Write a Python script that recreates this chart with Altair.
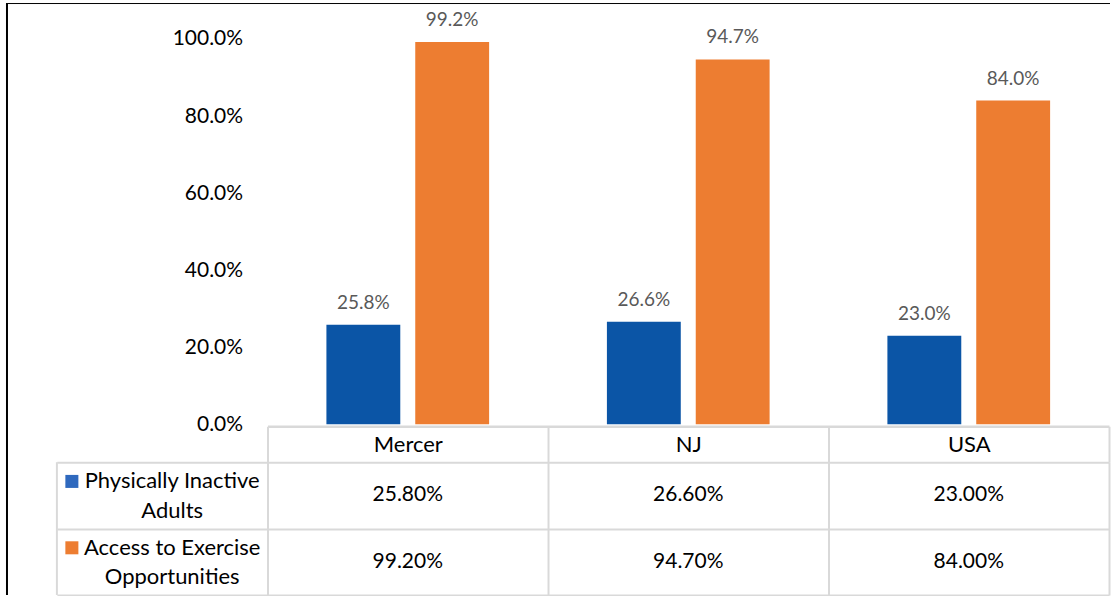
import altair as alt
import pandas as pd

# ---- data ----
categories = ["Mercer", "NJ", "USA"]
series = ["Physically Inactive Adults", "Access to Exercise Opportunities"]
inactive = [0.258, 0.266, 0.230]
access = [0.992, 0.947, 0.840]
y_ticks = [0.0, 0.2, 0.4, 0.6, 0.8, 1.0]

bar_colors = ["#0B55A6", "#ED7D31"]
key_colors = ["#2F69BE", "#ED7D31"]

rows = []
for s, vals in zip(series, [inactive, access]):
    for c, v in zip(categories, vals):
        rows.append({"category": c, "series": s, "value": v})
df = pd.DataFrame(rows)
keys_df = pd.DataFrame({"series": series})
one = pd.DataFrame({"a": [0]})

FONT = "Lato"
W = 843      # plot width (3 columns)
H = 386      # bar plot height
TH = 133     # table height (2 rows)
GRID = "#D9D9D9"

x_scale = alt.Scale(domain=categories, paddingInner=0, paddingOuter=0)
xo_scale = alt.Scale(domain=series, paddingInner=0.1685, paddingOuter=0.663)
y_scale = alt.Scale(domain=[0, 1], nice=False, zero=True)

x_bar = alt.X(
    "category:N", sort=categories, scale=x_scale,
    axis=alt.Axis(
        title=None, orient="bottom", offset=2, labelAngle=0,
        domainColor=GRID, domainWidth=2.5,
        ticks=True, tickBand="extent", tickSize=36, tickColor=GRID, tickWidth=2,
        labelPadding=-18, labelBaseline="middle", labelFontSize=22,
        labelColor="#000000", labelFont=FONT, grid=False,
    ),
)
y_bar = alt.Y(
    "value:Q", scale=y_scale,
    axis=alt.Axis(
        title=None, values=y_ticks, format=".1%", domain=False, ticks=False,
        tickSize=0, grid=False, labelPadding=25, labelFontSize=21,
        labelColor="#000000", labelFont=FONT,
    ),
)
xo = alt.XOffset("series:N", sort=series, scale=xo_scale)

bars = alt.Chart(df).mark_bar().encode(
    x=x_bar, xOffset=xo, y=y_bar,
    color=alt.Color("series:N", scale=alt.Scale(domain=series, range=bar_colors), legend=None),
)
labels = alt.Chart(df).mark_text(
    dy=-16, baseline="alphabetic", fontSize=19, color="#595959", font=FONT
).encode(x=x_bar, xOffset=xo, y=y_bar, text=alt.Text("value:Q", format=".1%"))

frame_top = alt.Chart(one).mark_rule(color="#000000", strokeWidth=1).encode(
    x=alt.value(-262), x2=alt.value(W + 1), y=alt.value(-35.5)
)
frame_left = alt.Chart(one).mark_rule(color="#000000", strokeWidth=2).encode(
    x=alt.value(-261), y=alt.value(-35.5), y2=alt.value(H + 38 + TH)
)

bar_chart = alt.layer(bars, labels, frame_top, frame_left).properties(
    width=W, height=H, view=alt.ViewBackground(stroke="transparent", strokeWidth=0)
)

# ---- data table ----
x_tab = alt.X(
    "category:N", sort=categories, scale=x_scale,
    axis=alt.Axis(
        title=None, orient="top", labels=False, ticks=False, domain=False,
        grid=True, tickBand="extent", gridColor=GRID, gridWidth=2,
    ),
)
y_tab = alt.Y(
    "series:N", sort=series,
    scale=alt.Scale(domain=series, paddingInner=0, paddingOuter=0),
    axis=alt.Axis(
        title=None, orient="left", domain=False, ticks=True, tickBand="extent",
        tickSize=211, tickColor=GRID, tickWidth=2, grid=True, gridColor=GRID,
        gridWidth=2, labelAlign="center", labelBaseline="middle",
        labelPadding=-115, labelOffset=-14.7,
        labelExpr="[slice(datum.label, 0, lastindexof(datum.label, ' ')), "
                  "slice(datum.label, lastindexof(datum.label, ' ') + 1)]",
        labelLineHeight=29.4, labelFontSize=22, labelFont=FONT,
        labelColor="#000000", labelLimit=0, labelOverlap=False,
    ),
)

cells = alt.Chart(df).mark_text(fontSize=21, font=FONT, color="#000000").encode(
    x=x_tab, y=y_tab, text=alt.Text("value:Q", format=".2%")
)
keys = alt.Chart(keys_df).mark_square(size=170, yOffset=-14, opacity=1, filled=True).encode(
    x=alt.value(-196), y=y_tab,
    color=alt.Color("series:N", scale=alt.Scale(domain=series, range=key_colors), legend=None),
)
col_left = alt.Chart(one).mark_rule(color=GRID, strokeWidth=2).encode(
    x=alt.value(-211), y=alt.value(0), y2=alt.value(TH)
)

table_chart = alt.layer(cells, keys, col_left).properties(
    width=W, height=TH, view=alt.ViewBackground(stroke="transparent", strokeWidth=0)
)

chart = (
    alt.vconcat(bar_chart, table_chart, spacing=38, bounds="flush")
    .resolve_scale(color="independent")
    .properties(padding={"left": 5, "top": 1.5, "right": 0, "bottom": 0})
    .configure_view(stroke="transparent", strokeWidth=0)
    .configure(font=FONT)
)

chart.save("out.html", embed_options={"renderer": "svg", "actions": False})
